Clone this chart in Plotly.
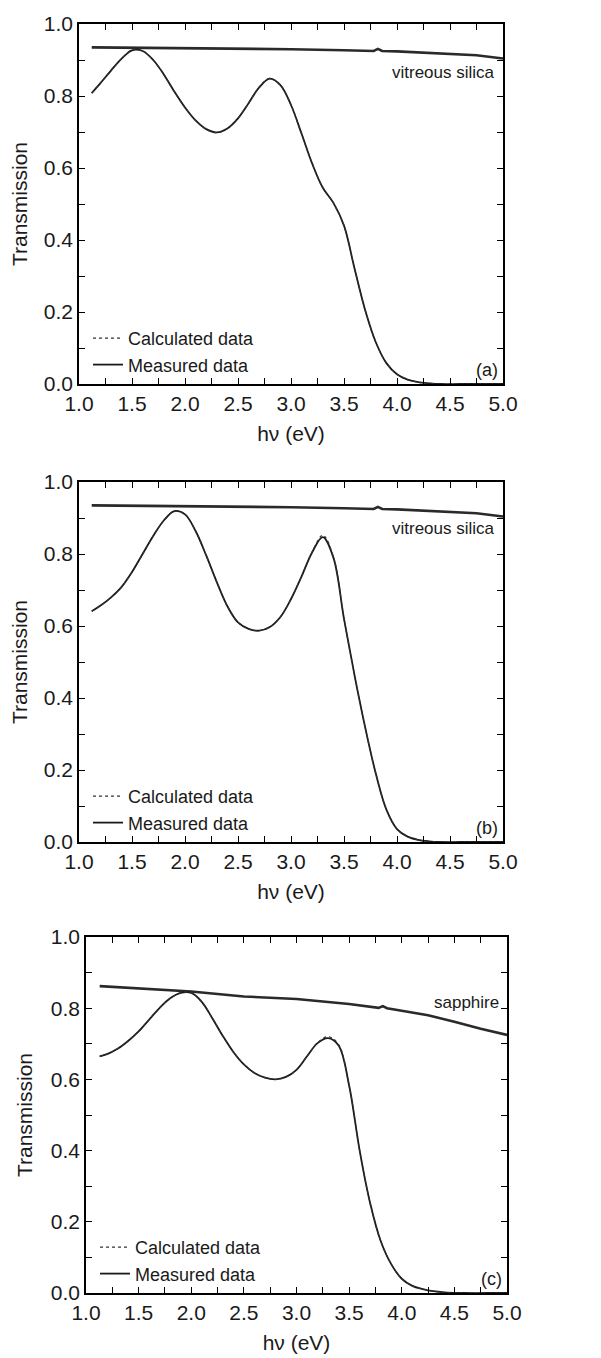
import plotly.graph_objects as go

# panel (a) - film on vitreous silica
xa = [1.12, 1.2, 1.3, 1.4, 1.5, 1.6, 1.7, 1.8, 1.9, 2.0, 2.1, 2.2, 2.3, 2.4, 2.5, 2.6, 2.7, 2.8, 2.9, 3.0,
      3.1, 3.2, 3.3, 3.4, 3.5, 3.6, 3.7, 3.8, 3.9, 4.0, 4.1, 4.2, 4.3, 4.4, 4.6, 4.8, 5.0]
meas_a = [0.808, 0.835, 0.870, 0.903, 0.927, 0.925, 0.900, 0.860, 0.812, 0.768, 0.732, 0.708, 0.699, 0.710,
          0.738, 0.780, 0.824, 0.848, 0.830, 0.775, 0.695, 0.612, 0.545, 0.503, 0.440, 0.320, 0.205, 0.116,
          0.058, 0.027, 0.012, 0.005, 0.002, 0.0, 0.0, 0.0, 0.0]
calc_a = [0.808, 0.835, 0.870, 0.903, 0.928, 0.925, 0.900, 0.860, 0.812, 0.768, 0.732, 0.708, 0.698, 0.710,
          0.738, 0.780, 0.825, 0.849, 0.830, 0.775, 0.695, 0.612, 0.546, 0.503, 0.440, 0.320, 0.205, 0.116,
          0.058, 0.027, 0.012, 0.005, 0.002, 0.0, 0.0, 0.0, 0.0]

# panel (b)
xb = [1.12, 1.2, 1.3, 1.4, 1.5, 1.6, 1.7, 1.8, 1.9, 2.0, 2.1, 2.2, 2.3, 2.4, 2.5, 2.6, 2.7, 2.8, 2.9, 3.0,
      3.1, 3.2, 3.3, 3.4, 3.5, 3.6, 3.7, 3.8, 3.9, 4.0, 4.1, 4.2, 4.3, 4.4, 4.6, 4.8, 5.0]
meas_b = [0.641, 0.656, 0.679, 0.708, 0.750, 0.800, 0.850, 0.893, 0.919, 0.910, 0.864, 0.796, 0.722, 0.655,
          0.610, 0.592, 0.587, 0.597, 0.625, 0.675, 0.738, 0.805, 0.847, 0.790, 0.620, 0.462, 0.318, 0.190,
          0.090, 0.036, 0.015, 0.006, 0.002, 0.0, 0.0, 0.0, 0.0]
calc_b = [0.641, 0.656, 0.679, 0.708, 0.750, 0.800, 0.850, 0.893, 0.919, 0.910, 0.864, 0.796, 0.722, 0.655,
          0.610, 0.592, 0.587, 0.597, 0.625, 0.675, 0.738, 0.806, 0.852, 0.793, 0.620, 0.462, 0.318, 0.190,
          0.090, 0.036, 0.015, 0.006, 0.002, 0.0, 0.0, 0.0, 0.0]

# panel (c) - film on sapphire
xc = [1.13, 1.2, 1.3, 1.4, 1.5, 1.6, 1.7, 1.8, 1.9, 2.0, 2.1, 2.2, 2.3, 2.4, 2.5, 2.6, 2.7, 2.8, 2.9, 3.0,
      3.1, 3.2, 3.3, 3.4, 3.5, 3.6, 3.7, 3.8, 3.9, 4.0, 4.1, 4.2, 4.3, 4.4, 4.6, 4.8, 5.0]
meas_c = [0.665, 0.671, 0.686, 0.708, 0.735, 0.768, 0.801, 0.828, 0.843, 0.843, 0.818, 0.772, 0.722, 0.677,
          0.642, 0.618, 0.605, 0.600, 0.607, 0.627, 0.665, 0.702, 0.716, 0.695, 0.583, 0.400, 0.252, 0.146,
          0.081, 0.040, 0.020, 0.011, 0.005, 0.002, 0.0, 0.0, 0.0]
calc_c = [0.665, 0.671, 0.686, 0.708, 0.735, 0.768, 0.801, 0.828, 0.843, 0.844, 0.818, 0.772, 0.722, 0.677,
          0.642, 0.618, 0.605, 0.600, 0.607, 0.627, 0.665, 0.703, 0.720, 0.698, 0.583, 0.400, 0.252, 0.146,
          0.081, 0.040, 0.020, 0.011, 0.005, 0.002, 0.0, 0.0, 0.0]

# substrates
xs = [1.12, 1.5, 2.0, 2.5, 3.0, 3.5, 3.78, 3.82, 3.86, 4.0, 4.25, 4.5, 4.75, 5.0]
silica = [0.935, 0.934, 0.933, 0.932, 0.930, 0.927, 0.925, 0.931, 0.925, 0.924, 0.921, 0.918, 0.913, 0.904]
xs_c = [1.13, 1.5, 2.0, 2.5, 3.0, 3.5, 3.78, 3.82, 3.86, 4.0, 4.25, 4.5, 4.75, 5.0]
sapphire = [0.862, 0.856, 0.847, 0.833, 0.826, 0.812, 0.801, 0.806, 0.800, 0.793, 0.780, 0.762, 0.742, 0.725]

panels = [
    dict(x=xa, m=meas_a, c=calc_a, xs=xs, s=silica, sub="vitreous silica", tag="(a)", ly=0.866),
    dict(x=xb, m=meas_b, c=calc_b, xs=xs, s=silica, sub="vitreous silica", tag="(b)", ly=0.870),
    dict(x=xc, m=meas_c, c=calc_c, xs=xs_c, s=sapphire, sub="sapphire", tag="(c)", ly=0.815),
]

# page body adds an 8px margin, so the figure is 8px smaller and boxes shifted
W, H = 593, 1350
boxes = [(71, 495, 16, 376), (71, 495, 474, 834), (78, 499, 929, 1285)]  # px: left, right, top, bottom

font = "Liberation Sans, Arial, sans-serif"
fig = go.Figure()
layout = {}
for i, (p, b) in enumerate(zip(panels, boxes)):
    n = "" if i == 0 else str(i + 1)
    xa_name, ya_name = "x" + n, "y" + n
    lg = "legend" + n
    fig.add_trace(go.Scatter(x=p["xs"], y=p["s"], mode="lines", line=dict(color="#2a2a2a", width=2.6),
                             xaxis=xa_name, yaxis=ya_name, showlegend=False))
    fig.add_trace(go.Scatter(x=p["x"], y=p["m"], mode="lines", name="Measured data", line_shape="spline",
                             line=dict(color="#1a1a1a", width=1.8), xaxis=xa_name, yaxis=ya_name,
                             legend=lg, legendrank=2))
    fig.add_trace(go.Scatter(x=p["x"], y=p["c"], mode="lines", name="Calculated data", line_shape="spline",
                             line=dict(color="#333333", width=1.2, dash="dot"), xaxis=xa_name, yaxis=ya_name,
                             legend=lg, legendrank=1))
    l, r, t, btm = b
    ax = dict(domain=[l / W, r / W], range=[1.0, 5.0], dtick=0.5, tick0=1.0, tickformat=".1f",
              ticks="inside", ticklen=6, tickwidth=1.3, tickcolor="black",
              minor=dict(dtick=0.25, ticks="inside", ticklen=6, tickcolor="black"),
              showline=True, linecolor="black", linewidth=1.6, mirror="allticks", showgrid=False, zeroline=False,
              anchor=ya_name, automargin=False, tickfont=dict(size=21, color="#1a1a1a"),
              title=dict(text="hν (eV)", font=dict(size=21, color="#1a1a1a"), standoff=12))
    ay = dict(domain=[1 - btm / H, 1 - t / H], range=[0, 1.0], dtick=0.2, tickformat=".1f",
              ticks="inside", ticklen=6, tickwidth=1.3, tickcolor="black",
              minor=dict(dtick=0.1, ticks="inside", ticklen=6, tickcolor="black"),
              showline=True, linecolor="black", linewidth=1.6, mirror="allticks", showgrid=False, zeroline=False,
              anchor=xa_name, automargin=False, tickfont=dict(size=21, color="#1a1a1a"),
              title=dict(text="Transmission", font=dict(size=21, color="#1a1a1a"), standoff=12))
    layout["xaxis" + n] = ax
    layout["yaxis" + n] = ay
    layout[lg] = dict(x=(l + 9) / W, y=1 - (btm - 64) / H, xanchor="left", yanchor="top",
                      bgcolor="rgba(0,0,0,0)", font=dict(size=18, color="#1a1a1a"), tracegroupgap=0,
                      itemwidth=30, traceorder="normal")
    fig.add_annotation(x=4.94, y=p["ly"], xref=xa_name, yref=ya_name, text=p["sub"], showarrow=False,
                       xanchor="right", font=dict(size=17, color="#1a1a1a"))
    fig.add_annotation(x=4.97, y=0.04, xref=xa_name, yref=ya_name, text=p["tag"], showarrow=False,
                       xanchor="right", font=dict(size=18, color="#1a1a1a"))

fig.update_layout(width=W, height=H, margin=dict(l=0, r=0, t=0, b=0), plot_bgcolor="white",
                  paper_bgcolor="white", font=dict(family=font, color="#1a1a1a"), **layout)
fig.write_html("out.html")
